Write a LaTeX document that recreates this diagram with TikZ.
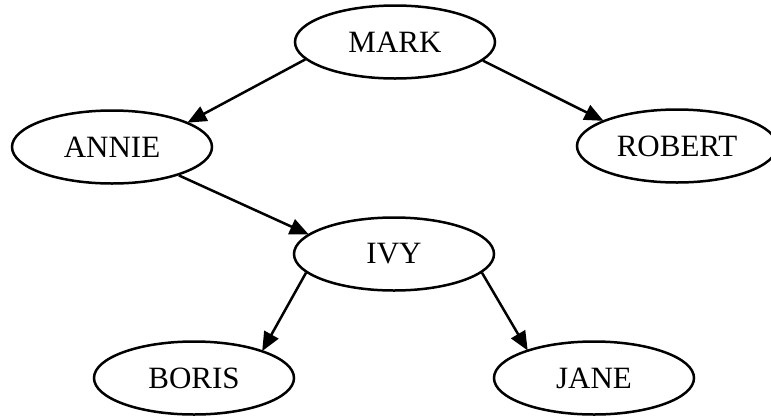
\documentclass[tikz,border=0pt]{standalone}
\usepackage{fontspec}
\setmainfont{Liberation Serif}
\usetikzlibrary{shapes.geometric,arrows.meta}
\begin{document}
\begin{tikzpicture}[x=1pt,y=-1pt,
  person/.style={ellipse,draw,line width=2.5pt,minimum width=200pt,minimum height=73pt,inner sep=0pt,font=\fontsize{31}{36}\selectfont},
  link/.style={line width=2.5pt,-{Triangle[length=19pt,width=16pt]},shorten >=-1pt}]
\clip (0,0) rectangle (771,416);
\useasboundingbox (0,0) rectangle (771,416);
\node[person] (mark) at (395,42) {MARK};
\node[person] (annie) at (112,147) {ANNIE};
\node[person] (robert) at (677,146) {ROBERT};
\node[person] (ivy) at (394,254) {IVY};
\node[person] (boris) at (194,378) {BORIS};
\node[person] (jane) at (594,378) {JANE};
\draw[link] (mark.191.6) -- (annie.18.9);
\draw[link] (mark.348.4) -- (robert.161.6);
\draw[link] (annie.337.8) -- (ivy.167);
\draw[link] (ivy.192.3) -- (boris.22.4);
\draw[link] (ivy.348) -- (jane.157);
\end{tikzpicture}
\end{document}
